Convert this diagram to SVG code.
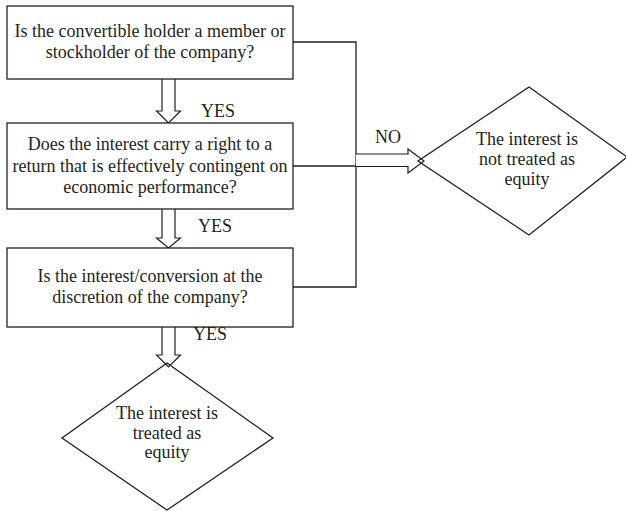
<svg xmlns="http://www.w3.org/2000/svg" width="626" height="511" viewBox="0 0 626 511">
<style>
.box{fill:#fff;stroke:#231f20;stroke-width:1.3}
.ln{fill:none;stroke:#231f20;stroke-width:1.3}
.arr{fill:#fff;stroke:#231f20;stroke-width:1.2;stroke-linejoin:miter}
text{font-family:"Liberation Serif","Times New Roman",serif;font-size:18px;fill:#231f20;text-anchor:middle}
</style>
<rect width="626" height="511" fill="#fff"/>
<g id="connectors">
<path class="ln" d="M293,42 H356 V287 H293"/>
<path class="ln" d="M293,166 H356"/>
<path class="arr" d="M356,154 H408 V149 L424,161 L408,173 V166.5 H356"/>
<path class="arr" d="M162,79 V111 H156.5 L168.5,123 L180.5,111 H175 V79"/>
<path class="arr" d="M162,209 V238 H156.5 L168.5,248 L180.5,238 H175 V209"/>
<path class="arr" d="M162,327 V355 H156.5 L168.5,367 L180.5,355 H175 V327"/>
<text x="218" y="117">YES</text>
<text x="215" y="232">YES</text>
<text x="210" y="340">YES</text>
<text x="388" y="143">NO</text>
</g>
<g id="q1">
<rect class="box" x="7" y="6" width="286" height="73"/>
<text x="150" y="37">Is the convertible holder a member or</text>
<text x="150" y="58">stockholder of the company?</text>
</g>
<g id="q2">
<rect class="box" x="7" y="123" width="286" height="86"/>
<text x="150" y="150">Does the interest carry a right to a</text>
<text x="150" y="172">return that is effectively contingent on</text>
<text x="150" y="193">economic performance?</text>
</g>
<g id="q3">
<rect class="box" x="7" y="248" width="286" height="79"/>
<text x="150" y="282">Is the interest/conversion at the</text>
<text x="150" y="303">discretion of the company?</text>
</g>
<g id="not-equity">
<polygon class="ln" points="529,87 627,157 529,235 418,161"/>
<text x="527" y="145">The interest is</text>
<text x="527" y="165">not treated as</text>
<text x="527" y="185">equity</text>
</g>
<g id="equity">
<polygon class="ln" points="167,363 273,438 167,510 62,438"/>
<text x="167" y="419">The interest is</text>
<text x="167" y="439">treated as</text>
<text x="167" y="458">equity</text>
</g>
</svg>
